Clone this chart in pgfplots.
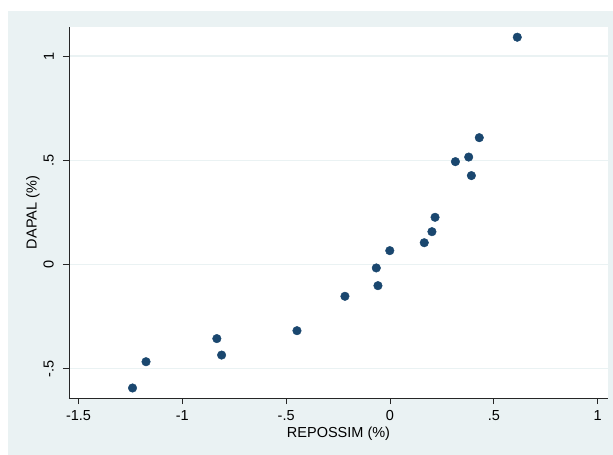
\documentclass[border=0pt]{standalone}
\usepackage{pgfplots}
\pgfplotsset{compat=1.18}
\usepackage{fontspec}
\setmainfont{Liberation Sans}
\definecolor{stbg}{RGB}{234,242,243}
\definecolor{stgrid}{RGB}{234,242,243}
\definecolor{stmark}{RGB}{26,71,111}
\begin{document}
\begin{tikzpicture}[x=1pt,y=1pt]
\useasboundingbox (0,0) rectangle (613,455);
\fill[stbg] (8,0) rectangle (613,444);
\begin{axis}[
  at={(69pt,57pt)}, anchor=south west,
  scale only axis, width=539pt, height=371pt,
  xmin=-1.546, xmax=1.050, ymin=-0.641, ymax=1.139,
  axis background/.style={fill=white},
  axis x line*=bottom, axis y line*=left,
  axis line style={black!85, line width=0.9pt},
  tick align=outside, major tick length=6pt,
  tick style={black!85, line width=0.9pt},
  xtick={-1.5,-1,-0.5,0,0.5,1},
  xticklabels={-1.5,-1,-.5,0,.5,1},
  ytick={-0.5,0,0.5,1},
  yticklabels={-.5,0,.5,1},
  ymajorgrids, grid style={stgrid, line width=1.2pt},
  ticklabel style={font=\fontsize{14.5}{17}\selectfont},
  xticklabel style={anchor=north, inner xsep=1pt, inner ysep=6.5pt},
  yticklabel style={rotate=90, anchor=south, inner xsep=1pt, inner ysep=9pt},
  label style={font=\fontsize{14.5}{17}\selectfont},
  xlabel={REPOSSIM (\%)},
  ylabel={DAPAL (\%)},
  xlabel style={at={(axis description cs:0.5,-0.0960)}, anchor=center},
  ylabel style={at={(axis description cs:-0.0668,0.5)}, anchor=center, rotate=0},
  clip=false,
]
\addplot[only marks, mark=*, mark size=4.3pt, stmark, mark options={fill=stmark, draw=stmark}] coordinates {
(0.613,1.090)
(0.430,0.608)
(0.379,0.515)
(0.315,0.493)
(0.392,0.426)
(0.217,0.226)
(0.202,0.157)
(0.165,0.104)
(-0.001,0.066)
(-0.066,-0.017)
(-0.058,-0.102)
(-0.217,-0.153)
(-0.448,-0.318)
(-0.834,-0.356)
(-0.811,-0.435)
(-1.175,-0.467)
(-1.240,-0.593)
};
\end{axis}
\end{tikzpicture}
\end{document}
